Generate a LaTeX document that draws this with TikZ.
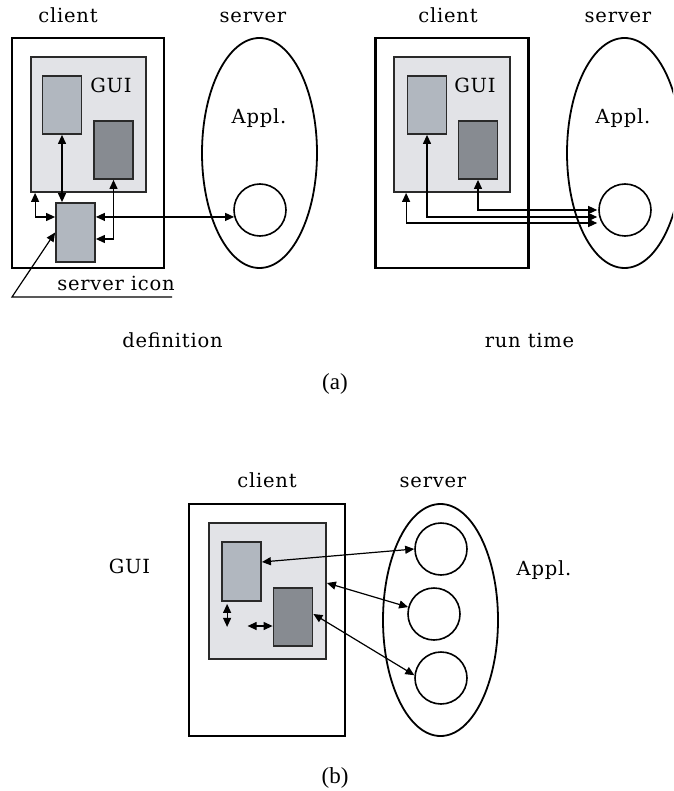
\documentclass[tikz,border=0pt]{standalone}
\usepackage{fontspec}
\setmainfont{Liberation Serif}
\newfontfamily\lblfont[LetterSpace=4]{DejaVu Serif}
\usetikzlibrary{arrows.meta,calc,shapes.geometric}

\definecolor{guifill}{HTML}{E2E3E7}
\definecolor{lightfill}{HTML}{B1B7BF}
\definecolor{darkfill}{HTML}{878B91}
\definecolor{edge}{HTML}{2A2A2A}

\tikzset{
  outerbox/.style={draw=black, line width=2.2pt, fill=white, rectangle, inner sep=0pt},
  guibox/.style={draw=edge, line width=1.8pt, fill=guifill, rectangle, inner sep=0pt},
  lightbox/.style={draw=edge, line width=1.8pt, fill=lightfill, rectangle, inner sep=0pt,
                   minimum width=39pt, minimum height=58pt},
  darkbox/.style={draw=edge, line width=1.8pt, fill=darkfill, rectangle, inner sep=0pt,
                  minimum width=39pt, minimum height=58pt},
  srv/.style={draw=black, line width=1.8pt, ellipse, inner sep=0pt,
              minimum width=115pt, minimum height=230pt},
  proc/.style={draw=black, line width=1.6pt, circle, fill=white, inner sep=0pt, minimum size=52pt},
  lbl/.style={font=\lblfont\fontsize{19.5}{22}\selectfont, anchor=base, inner sep=0pt},
  subcap/.style={font=\fontsize{23}{27}\selectfont, inner sep=0pt},
  dbl/.style={{Triangle[length=9pt,width=8pt]}-{Triangle[length=9pt,width=8pt]}, line width=1.2pt},
  onetip/.style={-{Triangle[length=9pt,width=8pt]}, line width=1.2pt},
}

\begin{document}
\begin{tikzpicture}[x=1pt, y=-1pt]
\useasboundingbox (0,0) rectangle (673,791);
\clip (0,0) rectangle (673,791);

% ---------------- (a) definition ----------------
\node[lbl] (tcl1) at (68,23) {client};
\node[lbl] (tsv1) at (253,23) {server};
\node[outerbox, minimum width=152pt, minimum height=230pt] (cl1) at (88,153) {};
\node[guibox, minimum width=115pt, minimum height=135pt] (gui1) at (88.5,124.5) {};
\node[lightbox] (lb1) at (62,105) {};
\node[darkbox] (db1) at (113.5,150) {};
\node[lbl] (tgui1) at (111,93) {GUI};
\node[lightbox, minimum height=59pt] (si1) at (75.5,232.5) {};
\node[srv] (el1) at (259.5,153) {};
\node[lbl] (tap1) at (259,124) {Appl.};
\node[proc] (c1) at (260,210) {};

\draw[dbl] (lb1.south) -- (lb1.south |- si1.north);
\draw[dbl] (db1.south) |- ($(si1.east)+(0,6.5)$);
\draw[dbl] ($(gui1.south west)+(5,0)$) |- ($(si1.west)+(0,-15.5)$);
\draw[dbl] (c1.195) -- (c1.195 -| si1.east);

% leader for the server icon
\coordinate (ldA) at (172,297);
\coordinate (ldB) at (12,297);
\draw[onetip] (ldA) -- (ldB) -- (si1.west);
\node[lbl] (tsi) at (116,290) {server icon};

% ---------------- (a) run time ----------------
\node[lbl] (tcl2) at (448,23) {client};
\node[lbl] (tsv2) at (618,23) {server};
\node[outerbox, minimum width=153pt, minimum height=230pt] (cl2) at (452,153) {};
\node[guibox, minimum width=116pt, minimum height=135pt] (gui2) at (452,124.5) {};
\node[lightbox] (lb2) at (427,105) {};
\node[darkbox] (db2) at (478,150) {};
\node[lbl] (tgui2) at (475,93) {GUI};
\node[srv] (el2) at (624.5,153) {};
\node[lbl] (tap2) at (623,124) {Appl.};
\node[proc] (c2) at (625,210) {};

\draw[dbl] (db2.south) |- ($(c2.west)+(-1,0)$);
\draw[dbl] (lb2.south) |- ($(c2.west)+(-1,7)$);
\draw[dbl] ($(gui2.south west)+(13,0)$) |- ($(c2.west)+(-1,13)$);

\node[lbl] (tdef) at (172.5,347) {definition};
\node[lbl] (trun) at (529.5,347) {run time};
\node[subcap] (capa) at (335,384) {(a)};

% ---------------- (b) ----------------
\node[lbl] (tcl3) at (267,487) {client};
\node[lbl] (tsv3) at (433,487) {server};
\node[lbl] (tgui3) at (129.5,573) {GUI};
\node[lbl] (tap3) at (544,575) {Appl.};
\node[outerbox, minimum width=156pt, minimum height=232pt] (cl3) at (267,620) {};
\node[guibox, minimum width=117pt, minimum height=136pt] (gui3) at (267.5,591) {};
\node[lightbox, minimum height=59pt] (lb3) at (241.5,571.5) {};
\node[darkbox] (db3) at (293,617) {};
\node[srv, minimum height=232pt] (el3) at (440.5,620) {};
\node[proc] (c31) at (441,549) {};
\node[proc] (c32) at (434,614) {};
\node[proc] (c33) at (441,678) {};

\draw[dbl] ($(lb3.east)+(0,-9.5)$) -- (c31.west);
\draw[dbl] ($(gui3.east)+(0,-8)$) -- (c32.165);
\draw[dbl] ($(db3.east)+(0,-3)$) -- (c33.174);

\coordinate (va) at ($(lb3.south west)+(6,2)$);
\coordinate (vb) at ($(lb3.south west)+(6,25)$);
\draw[dbl] (va) -- (vb);
\coordinate (ha) at ($(db3.west)+(-25,9)$);
\draw[dbl] (ha) -- ($(db3.west)+(0,9)$);

\node[subcap] (capb) at (335,778) {(b)};
\end{tikzpicture}
\end{document}
